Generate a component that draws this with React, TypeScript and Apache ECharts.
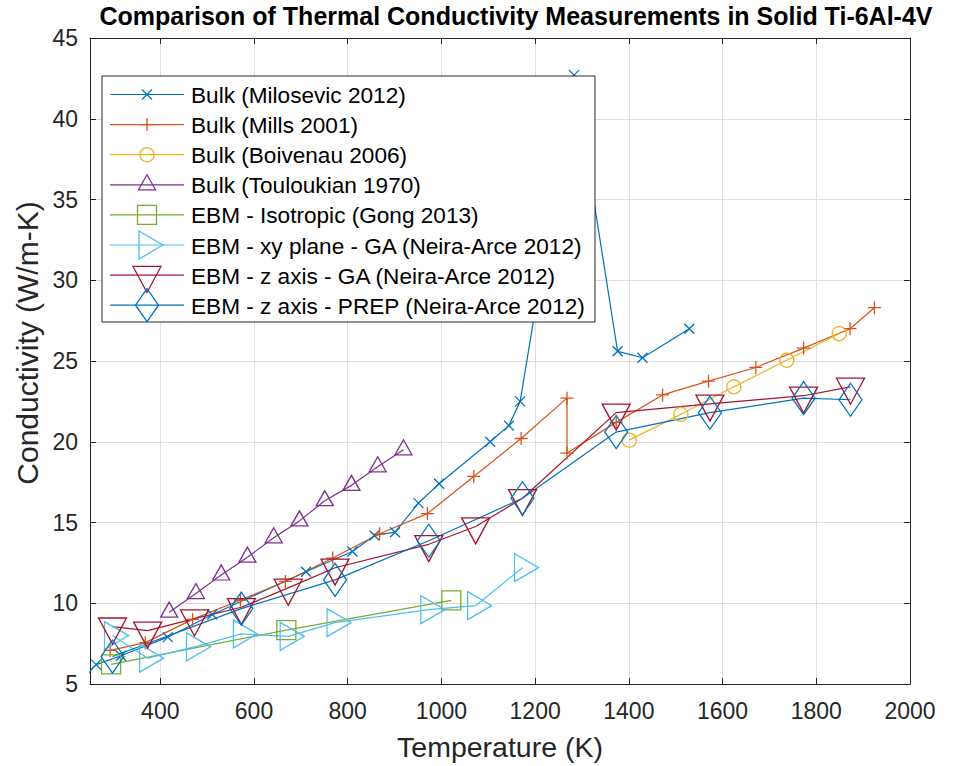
import React, { useEffect, useRef } from 'react';
import * as echarts from 'echarts';

// ---------- data ----------
const xTickValues = [400, 600, 800, 1000, 1200, 1400, 1600, 1800, 2000];

const milosevicT = [240, 263, 316, 416, 511, 711, 810, 857, 901, 951, 995, 1104, 1144, 1168, 1283, 1376, 1429, 1529];
const milosevicK = [5.45, 6.2, 6.75, 7.9, 9.3, 11.95, 13.2, 14.2, 14.4, 16.2, 17.4, 20.0, 21.0, 22.5, 42.7, 25.6, 25.2, 27.0];

const millsT = [293, 368, 469, 571, 667, 768, 868, 970, 1069, 1170, 1268, 1268, 1373, 1472, 1570, 1671, 1773, 1872, 1924];
const millsK = [7.08, 7.56, 9.0, 10.2, 11.35, 12.8, 14.3, 15.55, 17.85, 20.2, 22.7, 19.3, 21.2, 22.9, 23.75, 24.6, 25.8, 27.0, 28.3];

const boivenauT = [1401, 1511, 1624, 1737, 1849];
const boivenauK = [20.1, 21.7, 23.4, 25.05, 26.7];

const touloukianT = [419, 476, 530, 586, 642, 697, 751, 808, 864, 919];
const touloukianK = [9.45, 10.6, 11.75, 12.85, 14.05, 15.1, 16.35, 17.3, 18.45, 19.5];

const gongT = [295, 669, 1021];
const gongK = [6.22, 8.34, 10.18];

const xyGaT = [298, 373, 473, 573, 673, 773, 973, 1073, 1173];
const xyGaK = [8.0, 6.6, 7.3, 8.1, 7.95, 8.8, 9.6, 9.85, 12.2];

const zGaT = [298, 373, 473, 573, 673, 773, 973, 1073, 1173, 1373, 1573, 1773, 1873];
const zGaK = [8.55, 8.3, 9.05, 9.75, 10.95, 12.2, 13.65, 14.75, 16.5, 21.8, 22.35, 22.85, 23.4];

const zPrepT = [298, 573, 773, 973, 1173, 1373, 1573, 1773, 1873];
const zPrepK = [6.7, 9.67, 11.45, 13.87, 16.5, 20.6, 21.8, 22.7, 22.6];

const seriesNames = [
  'Bulk (Milosevic 2012)',
  'Bulk (Mills 2001)',
  'Bulk (Boivenau 2006)',
  'Bulk (Touloukian 1970)',
  'EBM - Isotropic (Gong 2013)',
  'EBM - xy plane - GA (Neira-Arce 2012)',
  'EBM - z axis - GA (Neira-Arce 2012)',
  'EBM - z axis - PREP (Neira-Arce 2012)',
];

// ---------- styling ----------
const COLORS = ['#0072BD', '#D95319', '#EDB120', '#7E2F8E', '#77AC30', '#4DBEEE', '#A2142F', '#0072BD'];
const FONT = '"Liberation Sans", Arial, Helvetica, sans-serif';
const AX = '#262626';

type Mk = { kind: string; w: number; h: number };
const MARKERS: Mk[] = [
  { kind: 'x', w: 10, h: 10 },
  { kind: 'plus', w: 13, h: 13 },
  { kind: 'circle', w: 14, h: 14 },
  { kind: 'up', w: 17, h: 15 },
  { kind: 'square', w: 19, h: 19 },
  { kind: 'right', w: 24, h: 28 },
  { kind: 'down', w: 28, h: 26 },
  { kind: 'diamond', w: 23, h: 33 },
];

function symbolFor(m: Mk): { symbol: string; offset: number[] } {
  switch (m.kind) {
    case 'x':
      return { symbol: 'path://M0,0L10,10M10,0L0,10', offset: [0, 0] };
    case 'plus':
      return { symbol: 'path://M5,0L5,10M0,5L10,5', offset: [0, 0] };
    case 'circle':
      return { symbol: 'circle', offset: [0, 0] };
    case 'up':
      return { symbol: 'path://M0,15L8.5,0L17,15Z', offset: [0, -m.h / 6] };
    case 'square':
      return { symbol: 'rect', offset: [0, 0] };
    case 'right':
      return { symbol: 'path://M0,0L24,14L0,28Z', offset: [m.w / 6, 0] };
    case 'down':
      return { symbol: 'path://M0,0L28,0L14,26Z', offset: [0, m.h / 6] };
    default:
      return { symbol: 'path://M11.5,0L23,16.5L11.5,33L0,16.5Z', offset: [0, 0] };
  }
}

function legendMarker(m: Mk, cx: number, cy: number, color: string): any[] {
  const style = { stroke: color, fill: 'none', lineWidth: 1.3 };
  const w = m.w, h = m.h;
  const z = 101;
  switch (m.kind) {
    case 'x':
      return [
        { type: 'line', z, shape: { x1: cx - w / 2, y1: cy - h / 2, x2: cx + w / 2, y2: cy + h / 2 }, style },
        { type: 'line', z, shape: { x1: cx + w / 2, y1: cy - h / 2, x2: cx - w / 2, y2: cy + h / 2 }, style },
      ];
    case 'plus':
      return [
        { type: 'line', z, shape: { x1: cx, y1: cy - h / 2, x2: cx, y2: cy + h / 2 }, style },
        { type: 'line', z, shape: { x1: cx - w / 2, y1: cy, x2: cx + w / 2, y2: cy }, style },
      ];
    case 'circle':
      return [{ type: 'circle', z, shape: { cx, cy, r: w / 2 }, style }];
    case 'up':
      return [{ type: 'polygon', z, shape: { points: [[cx - w / 2, cy + h / 3], [cx, cy - (2 * h) / 3], [cx + w / 2, cy + h / 3]] }, style }];
    case 'square':
      return [{ type: 'rect', z, shape: { x: cx - w / 2, y: cy - h / 2, width: w, height: h }, style }];
    case 'right':
      return [{ type: 'polygon', z, shape: { points: [[cx - w / 3, cy - h / 2], [cx + (2 * w) / 3, cy], [cx - w / 3, cy + h / 2]] }, style }];
    case 'down':
      return [{ type: 'polygon', z, shape: { points: [[cx - w / 2, cy - h / 3], [cx + w / 2, cy - h / 3], [cx, cy + (2 * h) / 3]] }, style }];
    default:
      return [{ type: 'polygon', z, shape: { points: [[cx, cy - h / 2], [cx + w / 2, cy], [cx, cy + h / 2], [cx - w / 2, cy]] }, style }];
  }
}

const seriesData: number[][][] = [
  milosevicT.map((t, i) => [t, milosevicK[i]]),
  millsT.map((t, i) => [t, millsK[i]]),
  boivenauT.map((t, i) => [t, boivenauK[i]]),
  touloukianT.map((t, i) => [t, touloukianK[i]]),
  gongT.map((t, i) => [t, gongK[i]]),
  xyGaT.map((t, i) => [t, xyGaK[i]]),
  zGaT.map((t, i) => [t, zGaK[i]]),
  zPrepT.map((t, i) => [t, zPrepK[i]]),
];

export default function App() {
  const ref = useRef<HTMLDivElement>(null);

  useEffect(() => {
    document.body.style.margin = '0';
    if (!ref.current) return;
    const chart = echarts.init(ref.current, null, { renderer: 'svg' });

    const series = seriesData.map((data, i) => {
      const m = MARKERS[i];
      const s = symbolFor(m);
      return {
        name: seriesNames[i],
        type: 'line',
        data,
        symbol: s.symbol,
        symbolSize: [m.w, m.h],
        symbolOffset: s.offset,
        showAllSymbol: true,
        clip: true,
        z: 2,
        lineStyle: { color: COLORS[i], width: 1.2 },
        itemStyle: { color: 'none', borderColor: COLORS[i], borderWidth: 1.3 },
        emphasis: { disabled: true },
      };
    });

    // legend drawn as graphic
    const lgX = 102, lgY = 76, lgW = 493, lgH = 246;
    const rowY0 = 94.5, rowDy = 30.1;
    const legendChildren: any[] = [
      { type: 'rect', z: 100, shape: { x: lgX, y: lgY, width: lgW, height: lgH }, style: { fill: '#ffffff', stroke: AX, lineWidth: 1 } },
    ];
    seriesNames.forEach((name, i) => {
      const y = rowY0 + i * rowDy;
      legendChildren.push({ type: 'line', z: 101, shape: { x1: 110, y1: y, x2: 184, y2: y }, style: { stroke: COLORS[i], lineWidth: 1.2 } });
      legendChildren.push(...legendMarker(MARKERS[i], 147, y, COLORS[i]));
      legendChildren.push({
        type: 'text',
        z: 101,
        x: 191,
        y: y + 1,
        style: { text: name, fill: '#000000', font: `22.6px ${FONT}`, verticalAlign: 'middle', align: 'left' },
      });
    });

    const fmt = (v: number) => String(v);

    chart.setOption({
      animation: false,
      textStyle: { fontFamily: FONT },
      grid: { left: 90, right: 53, top: 38, bottom: 82, containLabel: false },
      xAxis: [
        {
          type: 'value',
          min: 250,
          max: 2000,
          name: 'Temperature (K)',
          nameLocation: 'middle',
          nameGap: 48,
          nameTextStyle: { fontSize: 28.5, color: AX, fontFamily: FONT },
          axisLine: { show: true, onZero: false, lineStyle: { color: AX, width: 1 } },
          axisTick: { show: true, inside: true, length: 6, lineStyle: { color: AX }, customValues: xTickValues },
          axisLabel: { show: true, color: AX, fontSize: 23, margin: 15, fontFamily: FONT, customValues: xTickValues, formatter: fmt },
          splitLine: { show: true, lineStyle: { color: '#dfdfdf', width: 1 } },
        },
        {
          type: 'value',
          position: 'top',
          min: 250,
          max: 2000,
          axisLine: { show: true, onZero: false, lineStyle: { color: AX, width: 1 } },
          axisTick: { show: true, inside: true, length: 6, lineStyle: { color: AX }, customValues: xTickValues },
          axisLabel: { show: false, customValues: xTickValues },
          splitLine: { show: false },
        },
      ],
      yAxis: [
        {
          type: 'value',
          min: 5,
          max: 45,
          interval: 5,
          axisLine: { show: true, onZero: false, lineStyle: { color: AX, width: 1 } },
          axisTick: { show: true, inside: true, length: 6, lineStyle: { color: AX } },
          axisLabel: { show: true, color: AX, fontSize: 23, margin: 12, fontFamily: FONT, formatter: fmt },
          splitLine: { show: true, lineStyle: { color: '#dfdfdf', width: 1 } },
        },
        {
          type: 'value',
          position: 'right',
          min: 5,
          max: 45,
          interval: 5,
          axisLine: { show: true, onZero: false, lineStyle: { color: AX, width: 1 } },
          axisTick: { show: true, inside: true, length: 6, lineStyle: { color: AX } },
          axisLabel: { show: false },
          splitLine: { show: false },
        },
      ],
      series,
      graphic: [
        {
          type: 'text',
          z: 100,
          x: 516,
          y: 16,
          style: {
            text: 'Comparison of Thermal Conductivity Measurements in Solid Ti-6Al-4V',
            fill: '#000000',
            font: `bold 25px ${FONT}`,
            align: 'center',
            verticalAlign: 'middle',
          },
        },
        {
          type: 'text',
          z: 100,
          x: 27,
          y: 343,
          rotation: Math.PI / 2,
          style: {
            text: 'Conductivity (W/m-K)',
            fill: AX,
            font: `30px ${FONT}`,
            align: 'center',
            verticalAlign: 'middle',
          },
        },
        { type: 'group', z: 100, children: legendChildren },
      ],
    });

    return () => chart.dispose();
  }, []);

  return <div ref={ref} style={{ width: 963, height: 766 }} />;
}
